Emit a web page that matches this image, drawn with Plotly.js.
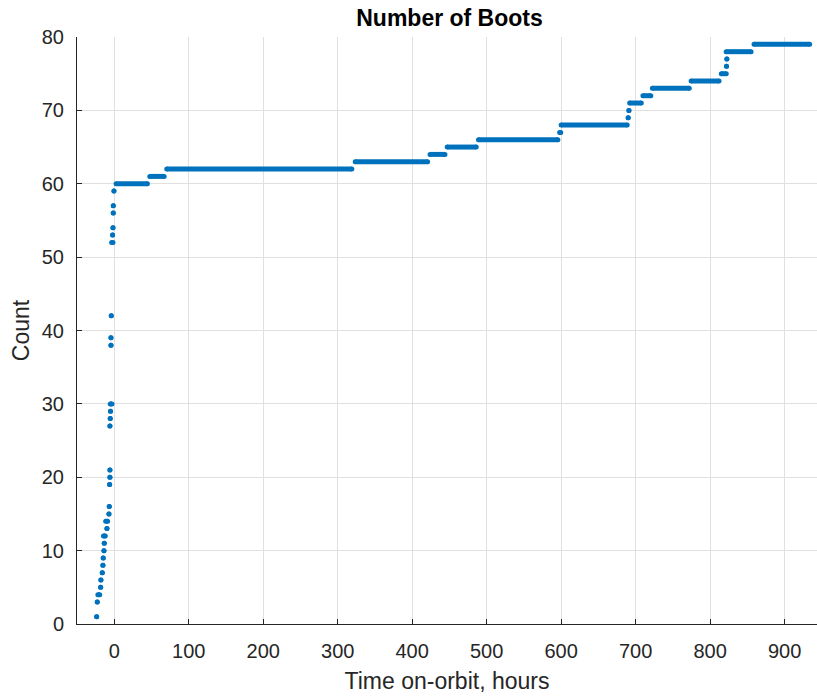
<!DOCTYPE html>
<html>
<head>
<meta charset="utf-8">
<script src="https://cdn.plot.ly/plotly-3.0.1.min.js"></script>
<style>html,body{margin:0;padding:0;background:#fff;}#chart{width:817px;height:696px;}</style>
</head>
<body>
<div id="chart"></div>
<script>
// Boot count levels and the time span (hours on-orbit) each level was held
const bootCounts = [1,3,4,5,6,7,8,9,10,11,12,13,14,15,16,19,20,21,27,28,29,30,38,39,42,52,53,54,56,57,59,
  60,61,62,63,64,65,66,67,68,69,70,71,72,73,74,75,76,77,78,79];
const startHours = [-23.6,-22.8,-22,-18.3,-17.9,-16.1,-15.2,-14.8,-13.8,-13.4,-14.5,-9.8,-11.5,-7.1,-6.7,-6.2,-5.8,-5.8,-5.8,-5.4,-5.0,-5.4,-4.4,-4.4,-4.0,-3.5,-2.2,-1.7,-1.3,-1.3,-0.4,
  2.5,47.7,70.5,323.5,424,447,489,598,600,690,691,692,709.8,722.5,774.5,815,822,822.5,821.5,859];
const endHours = [-23.6,-22.8,-19.5,-18.3,-17.9,-16.1,-15.2,-14.8,-13.8,-13.4,-12,-9.8,-8.9,-7.1,-6.7,-6.2,-5.8,-5.8,-5.8,-5.4,-5.0,-3.0,-4.4,-4.4,-4.0,-1.7,-2.2,-1.7,-1.3,-1.3,-0.4,
  44.5,67,319,420.7,444,486,595.6,599.5,688.7,690,691,707.6,720.4,772,812,821.7,822,822.5,855,933.6];
const xTicks = [0,100,200,300,400,500,600,700,800,900];
const yTicks = [0,10,20,30,40,50,60,70,80];

const xs = [], ys = [];
for (let i = 0; i < bootCounts.length; i++) {
  xs.push(startHours[i], endHours[i], null);
  ys.push(bootCounts[i], bootCounts[i], null);
}

const blue = '#0072BD';
const axisCol = '#262626';
const font = 'Liberation Sans, Arial, Helvetica, sans-serif';

const trace = {
  x: xs, y: ys, type: 'scatter', mode: 'lines+markers',
  line: {color: blue, width: 5},
  marker: {color: blue, size: 5},
  connectgaps: false, hoverinfo: 'x+y', showlegend: false
};

const layout = {
  width: 817, height: 696,
  margin: {l: 77, r: 0, t: 37, b: 72, pad: 0},
  paper_bgcolor: '#ffffff', plot_bgcolor: '#ffffff',
  font: {family: font, color: axisCol},
  title: {text: '<b>Number of Boots</b>', font: {family: font, size: 23, color: '#000'},
    x: 449.5/817, xanchor: 'center', y: 1 - 18/696, yanchor: 'middle', xref: 'container', yref: 'container'},
  xaxis: {
    range: [-50, 943.5], tickvals: xTicks, ticktext: xTicks.map(String),
    showgrid: true, gridcolor: '#e0e0e0', gridwidth: 1, zeroline: false,
    showline: true, linecolor: axisCol, linewidth: 1, mirror: false,
    ticks: 'inside', ticklen: 5, tickcolor: axisCol, tickwidth: 1,
    tickfont: {family: font, size: 20, color: axisCol}, ticklabelstandoff: 9,
    title: {text: 'Time on-orbit, hours', font: {family: font, size: 23, color: axisCol}, standoff: 11}
  },
  yaxis: {
    range: [0, 80], tickvals: yTicks, ticktext: yTicks.map(String),
    showgrid: true, gridcolor: '#e0e0e0', gridwidth: 1, zeroline: false,
    showline: true, linecolor: axisCol, linewidth: 1, mirror: false,
    ticks: 'inside', ticklen: 5, tickcolor: axisCol, tickwidth: 1,
    tickfont: {family: font, size: 20, color: axisCol}, ticklabelstandoff: 8,
    title: {text: 'Count', font: {family: font, size: 23, color: axisCol}, standoff: 5}
  }
};

Plotly.newPlot('chart', [trace], layout, {displayModeBar: false, staticPlot: true});
</script>
</body>
</html>
